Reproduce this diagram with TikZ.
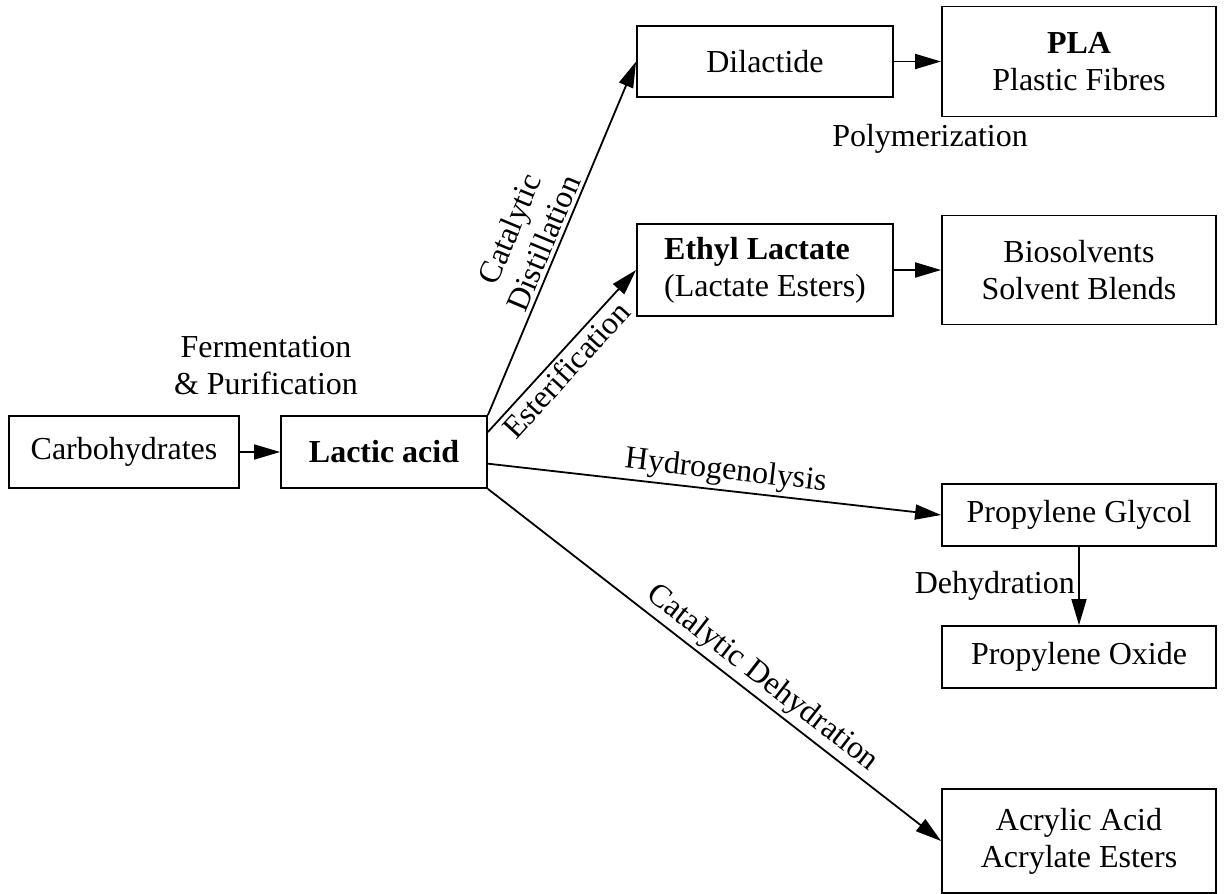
\documentclass[tikz,border=0pt]{standalone}
\usepackage{fontspec}
\setmainfont{Liberation Serif}
\usetikzlibrary{arrows.meta}
\begin{document}
\begin{tikzpicture}[x=1pt,y=-1pt,
  every node/.append style={font=\fontsize{32}{37}\selectfont},
  box/.style={draw, line width=1.8pt, inner sep=0pt, align=center},
  arr/.style={line width=1.8pt, -{Triangle[length=26pt,width=15pt]}},
  lbl/.style={align=center}]
\useasboundingbox (0,0) rectangle (1224,894);
% boxes
\node[box, minimum width=230pt, minimum height=72pt] (carb) at (124,452) {Carbohydrates};
\node[box, minimum width=206pt, minimum height=72pt] (lactic) at (384,452) {\bfseries Lactic acid};
\node[box, minimum width=256pt, minimum height=71pt] (dil) at (765,61.5) {Dilactide};
\node[box, minimum width=274pt, minimum height=110pt] (pla) at (1079,61.5) {{\bfseries PLA}\\Plastic Fibres};
\node[box, minimum width=256pt, minimum height=92pt, align=left] (ethyl) at (765,270) {\textbf{Ethyl Lactate}\\(Lactate Esters)};
\node[box, minimum width=274pt, minimum height=109pt] (bio) at (1079,270) {Biosolvents\\Solvent Blends};
\node[box, minimum width=274pt, minimum height=62pt] (pg) at (1079,515) {Propylene Glycol};
\node[box, minimum width=274pt, minimum height=62pt] (po) at (1079,657) {Propylene Oxide};
\node[box, minimum width=274pt, minimum height=104pt] (acr) at (1079,841) {Acrylic Acid\\Acrylate Esters};
% connectors
\draw[arr] (carb.east) -- (lactic.west);
\node[lbl] (lblferm) at (266,366) {Fermentation\\\& Purification};
\draw[arr] (dil.east) -- (pla.west);
\node[anchor=base] (lblpoly) at (930,146) {Polymerization};
\draw[arr] (ethyl.east) -- (bio.west);
\draw[arr] (lactic.north east) -- node[lbl, sloped, above, pos=0.47] (lbldist) {Catalytic\\Distillation} (dil.west);
\draw[arr] ([yshift=20pt]lactic.east) -- node[sloped, below, pos=0.45] (lblester) {Esterification} (ethyl.west);
\draw[arr] (lactic) -- node[sloped, above, pos=0.52] (lblhydro) {Hydrogenolysis} (pg.west);
\draw[arr] (pg) -- node[left] (lbldehyd) {Dehydration} (po);
\draw[arr] (lactic.south east) -- node[sloped, above, pos=0.58] (lblcatdeh) {Catalytic Dehydration} (acr.west);
\end{tikzpicture}
\end{document}
